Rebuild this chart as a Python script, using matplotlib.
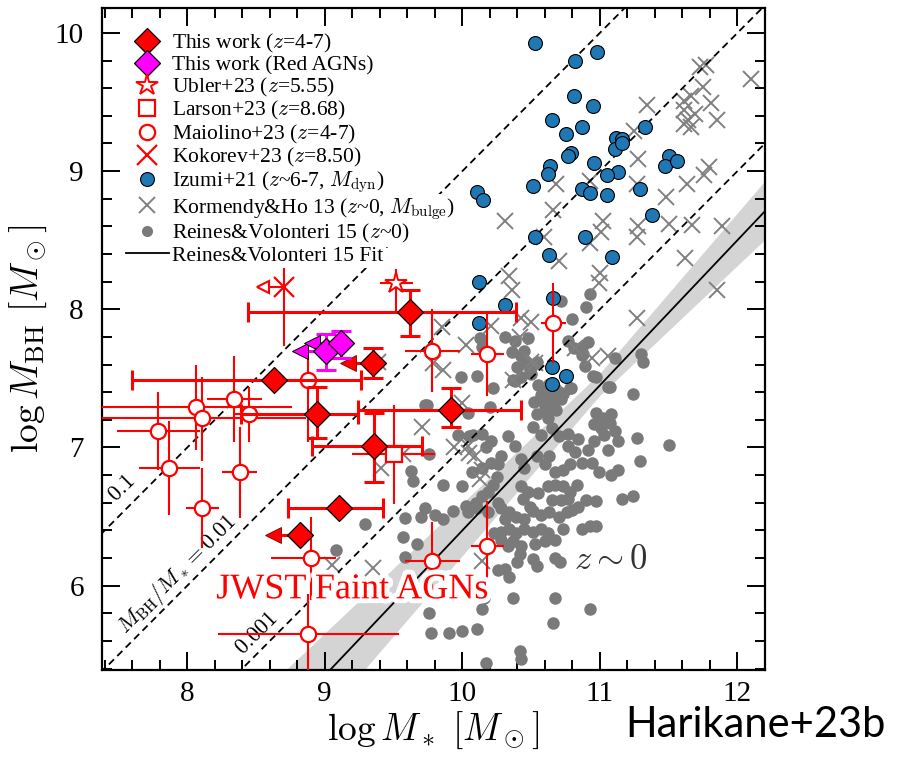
import matplotlib
matplotlib.use("Agg")
import matplotlib.pyplot as plt
import matplotlib.patheffects as pe
from matplotlib.lines import Line2D
from matplotlib.ticker import MultipleLocator
import numpy as np

plt.rcParams['font.family'] = 'serif'
plt.rcParams['font.serif'] = ['Liberation Serif', 'DejaVu Serif']
plt.rcParams['mathtext.fontset'] = 'cm'

RED = '#ff0000'
MAG = '#ff00ff'

# --- This work (z=4-7) ---
tw_mstar = [9.62, 8.63, 8.94, 9.92, 9.36, 9.10]
tw_mbh = [7.98, 7.49, 7.24, 7.27, 7.01, 6.56]
tw_xlo = [1.18, 1.03, 0.55, 0.68, 0.45, 0.37]
tw_xhi = [0.77, 0.63, 0.30, 0.51, 0.35, 0.32]
tw_ylo = [0.17, 0.0, 0.17, 0.12, 0.26, 0.0]
tw_yhi = [0.16, 0.0, 0.20, 0.16, 0.24, 0.0]
# stellar-mass upper limits
twl_mstar = [9.35, 8.82]
twl_mbh = [7.61, 6.37]
twl_tip = [9.17, 8.62]
twl_ylo = [0.11, 0.0]
twl_yhi = [0.11, 0.0]

# --- This work (red AGNs), all M* upper limits ---
red_mstar = [9.01, 9.115]
red_mbh = [7.70, 7.756]
red_tip = [8.82, 8.91]
red_ylo = [0.14, 0.11]
red_yhi = [0.12, 0.09]

# --- literature JWST AGNs ---
ubler = dict(x=9.52, y=8.19, xlo=0.12, xhi=0.12, ylo=0.22, yhi=0.10)
larson = dict(x=9.50, y=6.95, xlo=0.30, xhi=0.30, ylo=0.36, yhi=0.36)
kokorev = dict(x=8.70, y=8.16, tip=8.55, ylo=0.42, yhi=0.13)

mai_mstar = [8.88, 8.06, 8.11, 8.34, 8.45, 8.38, 7.79, 7.87, 8.11, 8.90, 8.88, 9.78, 10.18, 9.78, 10.18, 10.66]
mai_mbh = [7.49, 7.29, 7.21, 7.35, 7.24, 6.82, 7.12, 6.85, 6.56, 6.20, 5.65, 6.18, 6.29, 7.70, 7.68, 7.90]
mai_xlo = [0.15, 0.70, 0.75, 0.20, 0.10, 0.13, 0.30, 0.22, 0.12, 0.29, 0.66, 0.20, 0.12, 0.20, 0.12, 0.09]
mai_xhi = [0.15, 0.70, 0.75, 0.20, 0.10, 0.13, 0.30, 0.22, 0.12, 0.18, 0.66, 0.20, 0.12, 0.20, 0.12, 0.09]
mai_ylo = [0.45, 0.31, 0.31, 0.31, 0.20, 0.33, 0.28, 0.34, 0.29, 0.30, 0.30, 0.28, 0.32, 0.30, 0.31, 0.29]
mai_yhi = [0.22, 0.31, 0.30, 0.31, 0.20, 0.33, 0.28, 0.34, 0.29, 0.30, 0.29, 0.28, 0.32, 0.30, 0.31, 0.29]

# --- Izumi+21 quasars (M_dyn) ---
izumi_mstar = [10.53, 10.82, 10.98, 10.81, 10.95, 10.65, 10.75, 10.87, 11.33, 11.12,
               11.16, 11.11, 11.16, 10.79, 10.77, 10.96, 11.50, 11.47, 11.56, 10.64,
               10.62, 11.13, 11.05, 10.51, 10.87, 10.93, 11.05, 11.29, 10.11, 10.15,
               11.38, 10.53, 10.89, 10.63, 11.09, 10.12, 10.31, 10.66, 10.12, 10.65,
               10.75, 10.65]
izumi_mbh = [9.93, 9.80, 9.86, 9.54, 9.47, 9.37, 9.27, 9.32, 9.32, 9.24,
             9.23, 9.16, 9.20, 9.13, 9.11, 9.06, 9.11, 9.04, 9.07, 9.04,
             8.98, 8.99, 8.97, 8.89, 8.87, 8.84, 8.83, 8.87, 8.85, 8.79,
             8.68, 8.52, 8.52, 8.39, 8.38, 8.20, 8.03, 8.08, 7.90, 7.58,
             7.52, 7.46]

# --- Kormendy & Ho 13 (M_bulge) ---
kh_mstar = [11.77, 11.73, 12.10, 11.75, 11.66, 11.34, 11.61, 11.81, 11.69, 11.61,
            11.64, 11.85, 11.61, 11.66, 11.25, 11.28, 11.79, 11.76, 11.63, 10.68,
            10.93, 11.27, 11.48, 10.66, 10.31, 11.02, 11.01, 11.28, 11.27, 11.50,
            11.67, 11.89, 10.59, 10.93, 11.62, 10.70, 11.00, 10.99, 10.34, 10.36,
            11.85, 11.27, 10.50, 10.42, 9.85, 10.03, 9.79, 9.86, 11.06, 10.82,
            10.50, 10.94, 9.39, 9.71, 9.41, 9.57, 10.09, 10.04, 10.37, 9.94,
            10.05, 10.14, 10.13, 10.53, 10.14, 9.05, 9.35, 10.00, 10.21, 10.43]
kh_mbh = [9.77, 9.75, 9.67, 9.61, 9.54, 9.48, 9.51, 9.49, 9.41, 9.44,
          9.37, 9.37, 9.34, 9.32, 9.29, 9.09, 9.03, 8.97, 8.91, 8.91,
          8.93, 8.91, 8.81, 8.72, 8.64, 8.64, 8.56, 8.60, 8.52, 8.62,
          8.61, 8.60, 8.52, 8.48, 8.37, 8.35, 8.26, 8.19, 8.24, 8.14,
          8.14, 7.94, 7.91, 7.80, 7.87, 7.74, 7.61, 7.56, 7.66, 7.72,
          7.62, 7.65, 7.62, 7.15, 6.85, 6.95, 6.94, 7.01, 7.49, 7.00,
          6.96, 6.84, 6.77, 7.61, 6.18, 6.15, 6.13, 7.32, 7.88, 7.94]

# --- Reines & Volonteri 15 local AGNs ---
rv_mstar = [10.80, 10.91, 10.81, 10.88, 11.31, 11.30, 10.13, 10.14, 10.36, 10.43,
            10.47, 10.40, 10.49, 10.43, 9.99, 10.11, 10.22, 11.24, 10.62, 10.67,
            10.73, 10.79, 9.73, 10.57, 10.65, 10.72, 10.68, 10.60, 10.54, 10.62,
            10.51, 10.65, 10.57, 10.70, 10.77, 10.84, 10.77, 10.82, 10.91, 10.97,
            11.02, 11.08, 10.96, 11.01, 11.07, 11.11, 11.03, 11.13, 11.06, 10.96,
            11.27, 11.50, 11.29, 9.97, 10.05, 10.14, 10.21, 10.17, 10.33, 10.38,
            10.28, 10.26, 10.43, 10.45, 10.54, 10.60, 10.63, 10.67, 10.73, 10.78,
            10.87, 10.94, 10.99, 11.08, 11.13, 9.63, 9.64, 9.86, 10.00, 10.07,
            10.14, 10.21, 10.25, 10.22, 10.19, 10.14, 10.10, 10.43, 10.48, 10.44,
            10.49, 10.55, 10.62, 10.67, 10.73, 10.78, 10.83, 10.65, 10.72, 10.77,
            10.84, 10.90, 10.97, 11.16, 11.24, 10.28, 10.34, 10.39, 10.45, 10.51,
            10.57, 10.63, 10.70, 10.76, 10.80, 10.03, 10.11, 10.19, 9.73, 9.70,
            9.80, 9.86, 9.93, 9.58, 9.57, 9.67, 10.34, 10.39, 10.45, 10.51,
            10.57, 10.62, 10.67, 10.73, 10.87, 10.93, 10.97, 10.23, 10.28, 10.37,
            10.43, 10.53, 10.60, 10.42, 10.40, 10.51, 10.54, 10.67, 10.71, 10.26,
            10.34, 10.37, 10.67, 10.93, 10.66, 9.77, 9.90, 10.00, 10.11, 9.76,
            10.14, 10.17, 10.43, 9.58, 9.29, 9.08, 10.16, 10.26, 10.31, 10.28,
            10.33, 10.31, 10.42, 10.31, 10.38, 10.54, 10.50, 10.38, 10.87, 10.87,
            10.89, 10.77, 11.06, 10.97, 10.55, 10.60, 10.63, 10.57, 10.66, 10.70,
            10.52, 10.60, 10.08, 9.76, 10.04, 10.93, 10.90, 10.72, 10.48, 10.45,
            11.11, 10.95, 11.07, 10.37, 10.64, 10.78, 9.74, 10.04, 10.20, 10.50]
rv_mbh = [7.93, 7.76, 7.72, 7.68, 7.62, 7.68, 7.79, 7.73, 7.69, 7.66,
          7.61, 7.58, 7.56, 7.51, 7.51, 7.52, 7.43, 7.39, 7.39, 7.43,
          7.39, 7.43, 7.31, 7.35, 7.32, 7.35, 7.27, 7.27, 7.24, 7.21,
          7.15, 7.14, 7.09, 7.08, 7.10, 7.06, 7.01, 6.97, 6.98, 7.25,
          7.21, 7.24, 7.17, 7.14, 7.18, 7.12, 7.09, 7.05, 6.98, 7.05,
          7.07, 7.02, 6.90, 7.09, 7.08, 7.10, 7.05, 7.00, 7.08, 7.01,
          6.94, 6.88, 6.92, 6.85, 6.94, 6.88, 6.94, 6.82, 6.84, 6.88,
          6.89, 6.89, 6.82, 6.80, 6.84, 6.83, 6.76, 6.73, 6.72, 6.82,
          6.85, 6.89, 6.79, 6.73, 6.68, 6.65, 6.60, 6.72, 6.68, 6.63,
          6.57, 6.67, 6.72, 6.73, 6.72, 6.68, 6.73, 6.62, 6.62, 6.63,
          6.57, 6.62, 6.61, 6.63, 6.65, 6.56, 6.53, 6.50, 6.48, 6.54,
          6.51, 6.53, 6.50, 6.53, 6.55, 6.58, 6.56, 6.53, 6.56, 6.50,
          6.51, 6.48, 6.54, 6.49, 6.35, 6.30, 6.41, 6.38, 6.41, 6.39,
          6.41, 6.38, 6.33, 6.41, 6.41, 6.43, 6.43, 6.38, 6.33, 6.32,
          6.29, 6.30, 6.32, 6.23, 6.17, 6.19, 6.14, 6.20, 6.17, 6.11,
          6.06, 5.91, 5.91, 5.83, 5.73, 5.66, 5.66, 5.67, 5.69, 5.80,
          5.83, 5.44, 5.47, 6.21, 6.45, 6.26, 5.91, 6.60, 6.48, 6.39,
          6.29, 6.12, 5.53, 7.80, 7.77, 7.62, 7.58, 7.48, 7.73, 7.67,
          7.59, 7.77, 7.44, 7.51, 7.45, 7.42, 7.46, 7.38, 7.36, 7.40,
          7.33, 7.30, 7.09, 6.95, 6.53, 8.11, 8.02, 8.06, 7.79, 7.70,
          7.65, 7.52, 7.44, 7.49, 7.41, 7.43, 7.31, 7.25, 7.29, 7.53]

# Reines & Volonteri 15 fit: log M_BH = a + b (log M* - 11)
fit_a, fit_a_err = 7.45, 0.08
fit_b, fit_b_err = 1.05, 0.11
ratio_lines = [0.1, 0.01, 0.001]

fig = plt.figure(figsize=(9.01, 7.58), dpi=100)
ax = fig.add_axes([0.1132, 0.1161, 0.7358, 0.8733])
xlo, xhi = 7.38, 12.2
ylo, yhi = 5.39, 10.18

# fit line with slope/intercept envelope
xf = np.linspace(xlo - 0.2, xhi + 0.2, 300)
dx = xf - 11.0
yf = fit_a + fit_b * dx
spread = fit_a_err + fit_b_err * np.abs(dx)
ax.fill_between(xf, yf - spread, yf + spread, color='#d4d4d4', lw=0, zorder=1)
ax.plot(xf, yf, color='k', lw=1.3, zorder=4)

# constant mass-ratio lines
xr = np.array([xlo - 0.5, xhi + 0.5])
for r in ratio_lines:
    ax.plot(xr, xr + np.log10(r), color='k', lw=1.3, ls=(0, (4, 2.6)), zorder=4)

ax.plot(rv_mstar, rv_mbh, 'o', color='#7a7a7a', ms=9, mew=0, zorder=2)
ax.plot(kh_mstar, kh_mbh, 'x', color='#808080', ms=11, mew=1.4, zorder=3)
ax.plot(izumi_mstar, izumi_mbh, 'o', color='#1f77b4', mec='k', mew=0.8, ms=10, zorder=5)

# Maiolino+23
ax.errorbar(mai_mstar, mai_mbh, xerr=[mai_xlo, mai_xhi], yerr=[mai_ylo, mai_yhi],
            fmt='o', ms=11, mfc='white', mec=RED, mew=1.6, ecolor=RED,
            elinewidth=1.5, capsize=0, zorder=7)

# Larson+23
ax.errorbar([larson['x']], [larson['y']], xerr=[[larson['xlo']], [larson['xhi']]],
            yerr=[[larson['ylo']], [larson['yhi']]], fmt='s', ms=11, mfc='white',
            mec=RED, mew=1.6, ecolor=RED, elinewidth=1.5, capsize=0, zorder=7)

# Ubler+23
ax.errorbar([ubler['x']], [ubler['y']], xerr=[[ubler['xlo']], [ubler['xhi']]],
            yerr=[[ubler['ylo']], [ubler['yhi']]], fmt='*', ms=16, mfc='white',
            mec=RED, mew=1.4, ecolor=RED, elinewidth=1.5, capsize=0, zorder=7)

# Kokorev+23 (M* upper limit)
ax.plot([kokorev['x'], kokorev['tip']], [kokorev['y']] * 2, color=RED, lw=1.5, zorder=35)
ax.plot(kokorev['tip'], kokorev['y'], '<', ms=9, mfc='white', mec=RED, mew=1.5, zorder=35)
ax.plot([kokorev['x']] * 2, [kokorev['y'] - kokorev['ylo'], kokorev['y'] + kokorev['yhi']],
        color=RED, lw=1.5, zorder=35)
ax.plot(kokorev['x'], kokorev['y'], 'x', ms=14, mec=RED, mew=1.6, zorder=35)

# This work
for i in range(len(tw_mstar)):
    yerr = None
    if tw_ylo[i] > 0:
        yerr = [[tw_ylo[i]], [tw_yhi[i]]]
    ax.errorbar([tw_mstar[i]], [tw_mbh[i]], xerr=[[tw_xlo[i]], [tw_xhi[i]]], yerr=yerr,
                fmt='none', ecolor=RED, elinewidth=2.2, capsize=7, capthick=2.2, zorder=8)
for i in range(len(twl_mstar)):
    ax.plot([twl_mstar[i], twl_tip[i]], [twl_mbh[i]] * 2, color=RED, lw=2.2, zorder=8)
    ax.plot(twl_tip[i], twl_mbh[i], '<', ms=11, color=RED, mec='#800000', mew=0.6, zorder=8)
    if twl_ylo[i] > 0:
        ax.errorbar([twl_mstar[i]], [twl_mbh[i]], yerr=[[twl_ylo[i]], [twl_yhi[i]]],
                    fmt='none', ecolor=RED, elinewidth=2.2, capsize=7, capthick=2.2, zorder=8)
ax.plot(tw_mstar + twl_mstar, tw_mbh + twl_mbh, 'D', ms=13, color=RED, mec='k', mew=0.9, zorder=9)

# This work, red AGNs
for i in range(len(red_mstar)):
    ax.plot([red_mstar[i], red_tip[i]], [red_mbh[i]] * 2, color=MAG, lw=2.2, zorder=8)
    ax.plot(red_tip[i], red_mbh[i], '<', ms=11, color=MAG, mec='k', mew=0.7, zorder=8)
    ax.errorbar([red_mstar[i]], [red_mbh[i]], yerr=[[red_ylo[i]], [red_yhi[i]]],
                fmt='none', ecolor=MAG, elinewidth=2.2, capsize=7, capthick=2.2, zorder=8)
ax.plot(red_mstar, red_mbh, 'D', ms=13, color=MAG, mec='k', mew=0.9, zorder=9)

# annotations
ax.text(7.53, 6.70, r'$0.1$', rotation=45, ha='center', va='center', fontsize=16, zorder=6)
ax.text(7.93, 6.08, r'$M_{\rm BH}/M_* = 0.01$', rotation=45, ha='center', va='center',
        fontsize=16, zorder=6)
ax.text(8.51, 5.65, r'$0.001$', rotation=45, ha='center', va='center', fontsize=16, zorder=6)
ax.text(9.20, 5.97, 'JWST Faint AGNs', color=RED, fontsize=26, ha='center', va='center',
        zorder=20, path_effects=[pe.withStroke(linewidth=7, foreground='white')])
ax.text(11.08, 6.18, r'$z\sim0$', color='#333333', fontsize=25, ha='center', va='center', zorder=6)

ax.set_xlim(xlo, xhi)
ax.set_ylim(ylo, yhi)
ax.xaxis.set_major_locator(MultipleLocator(1))
ax.xaxis.set_minor_locator(MultipleLocator(0.2))
ax.yaxis.set_major_locator(MultipleLocator(1))
ax.yaxis.set_minor_locator(MultipleLocator(0.2))
ax.tick_params(which='both', direction='in', top=True, right=True, width=1.4, labelsize=21)
ax.tick_params(which='major', length=13, pad=8)
ax.tick_params(axis='y', which='major', pad=13)
ax.tick_params(which='minor', length=7)
for s in ax.spines.values():
    s.set_linewidth(1.6)
ax.set_xlabel(r'$\log M_*\ [M_\odot]$', fontsize=27, labelpad=2)
ax.set_ylabel(r'$\log M_{\rm BH}\ [M_\odot]$', fontsize=27, labelpad=4)

handles = [
    Line2D([], [], ls='none', marker='D', ms=13, color=RED, mec='k', mew=0.9),
    Line2D([], [], ls='none', marker='D', ms=13, color=MAG, mec='k', mew=0.9),
    Line2D([], [], ls='none', marker='*', ms=16, mfc='white', mec=RED, mew=1.4),
    Line2D([], [], ls='none', marker='s', ms=11, mfc='white', mec=RED, mew=1.6),
    Line2D([], [], ls='none', marker='o', ms=11, mfc='white', mec=RED, mew=1.6),
    Line2D([], [], ls='none', marker='x', ms=14, mec=RED, mew=1.6),
    Line2D([], [], ls='none', marker='o', ms=10, color='#1f77b4', mec='k', mew=0.8),
    Line2D([], [], ls='none', marker='x', ms=11, mec='#808080', mew=1.4),
    Line2D([], [], ls='none', marker='o', ms=8, color='#7a7a7a', mew=0),
    Line2D([], [], color='k', lw=1.3),
]
labels = [
    r'This work ($z$=4-7)',
    'This work (Red AGNs)',
    r'Ubler+23 ($z$=5.55)',
    r'Larson+23 ($z$=8.68)',
    r'Maiolino+23 ($z$=4-7)',
    r'Kokorev+23 ($z$=8.50)',
    r'Izumi+21 ($z$~6-7, $M_{\rm dyn}$)',
    r'Kormendy&Ho 13 ($z$~0, $M_{\rm bulge}$)',
    r'Reines&Volonteri 15 ($z$~0)',
    'Reines&Volonteri 15 Fit',
]
leg = ax.legend(handles, labels, loc='upper left', frameon=False, fontsize=15.5,
                handlelength=2.0, handletextpad=0.15, labelspacing=0.02,
                borderaxespad=0.8, borderpad=0.3)
for t in leg.get_texts():
    t.set_bbox(dict(facecolor='white', edgecolor='none', pad=1.5))
leg.set_zorder(30)

fig.text(0.838, 0.044, 'Harikane+23b', family='Lato', fontsize=30, ha='center', va='center')

fig.savefig('out.png', dpi=100)
